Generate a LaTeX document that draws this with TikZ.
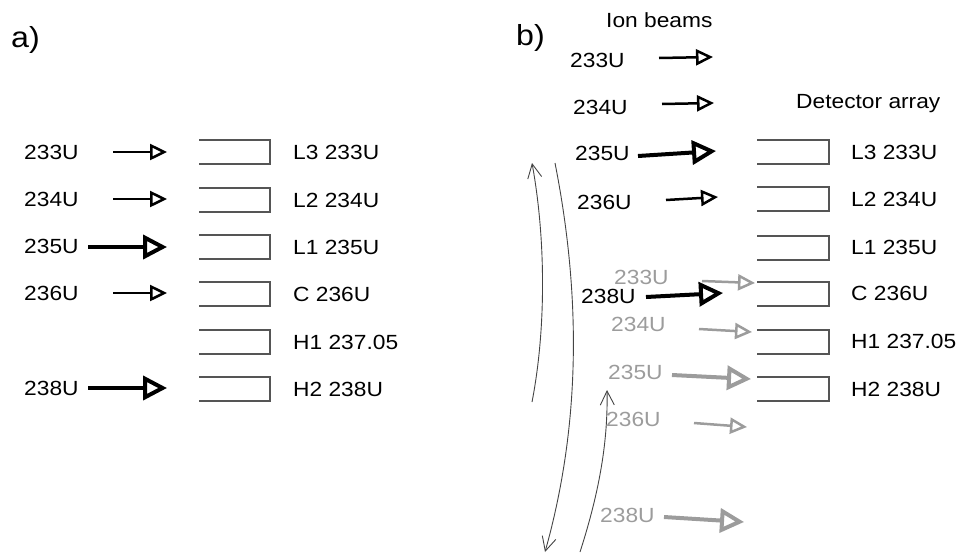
\documentclass[tikz,border=0pt]{standalone}
\usepackage{fontspec}
\setmainfont{Liberation Sans}[FakeStretch=1.11]
\usetikzlibrary{arrows.meta}
\definecolor{beamgray}{HTML}{9C9C9C}
\definecolor{boxgray}{HTML}{555555}
\definecolor{curvegray}{HTML}{444444}

\begin{document}
\begin{tikzpicture}[x=1pt,y=-1pt,
		lbl/.style={anchor=west,inner sep=0pt,font=\fontsize{20.5}{23}\selectfont},
		glbl/.style={lbl,text=beamgray},
		panel/.style={anchor=west,inner sep=0pt,font=\fontsize{29}{31}\selectfont},
		thinbeam/.style={line width=2.5pt,-{Triangle[open,length=17pt,width=16pt]}},
		fatbeam/.style={line width=4pt,-{Triangle[open,length=24pt,width=24pt]}},
		det/.style={draw=boxgray,line width=1.2pt},
		turn/.style={draw=curvegray,line width=0.9pt,-{Straight Barb[length=14pt,width=14pt]}}]
		\useasboundingbox (0,0) rectangle (960,552);
		%\draw [help lines,step=50] (0,0) grid (960,552);
		% a)
		\node [panel] (pa) at (11,40) {a)};
		\node [lbl] (a233) at (24,152) {233U};
		\node [lbl] (a234) at (24,199) {234U};
		\node [lbl] (a235) at (24,246) {235U};
		\node [lbl] (a236) at (24,293) {236U};
		\node [lbl] (a238) at (24,388) {238U};
		\draw [thinbeam] (113,152) -- (167,152);
		\draw [thinbeam] (113,199) -- (167,199);
		\draw [fatbeam] (88,247) -- (167,247);
		\draw [thinbeam] (113,293) -- (167,293);
		\draw [fatbeam] (88,388) -- (167,388);
		% Detector array a)
		\foreach \t in {140,188,235,282,330,377}
			\draw [det] (199,\t) -- (270,\t) -- (270,\t+24) -- (199,\t+24);
		\node [lbl] (aL3) at (293,152) {L3 233U};
		\node [lbl] (aL2) at (293,200) {L2 234U};
		\node [lbl] (aL1) at (293,247) {L1 235U};
		\node [lbl] (aC) at (293,294) {C 236U};
		\node [lbl] (aH1) at (293,342) {H1 237.05};
		\node [lbl] (aH2) at (293,389) {H2 238U};
		% b)
		\node [panel] (pb) at (516,38) {b)};
		\node [lbl] (ion) at (606,20) {Ion beams};
		\node [lbl] (arr) at (796,104) {Detector array};
		\foreach \t in {140,187,236,282,330,377}
			\draw [det] (757,\t) -- (829,\t) -- (829,\t+24) -- (757,\t+24);
		\node [lbl] (bL3) at (851,152) {L3 233U};
		\node [lbl] (bL2) at (851,199) {L2 234U};
		\node [lbl] (bL1) at (851,247) {L1 235U};
		\node [lbl] (bC) at (851,293) {C 236U};
		\node [lbl] (bH1) at (851,341) {H1 237.05};
		\node [lbl] (bH2) at (851,389) {H2 238U};
		% gray beams
		\node [glbl] (g233) at (614,277) {233U};
		\node [glbl] (g234) at (611,324) {234U};
		\node [glbl] (g235) at (608,372) {235U};
		\node [glbl] (g236) at (606,419) {236U};
		\node [glbl] (g238) at (600,515) {238U};
		\draw [thinbeam,beamgray] (702,281) -- (755,283);
		\draw [thinbeam,beamgray] (699,329) -- (752,332);
		\draw [fatbeam,beamgray] (672,375) -- (751,379);
		\draw [thinbeam,beamgray] (694,423) -- (747,427);
		\draw [fatbeam,beamgray] (664,517) -- (744,522);
		% black beams
		\node [lbl] (b233) at (570,60) {233U};
		\node [lbl] (b234) at (573,107) {234U};
		\node [lbl] (b235) at (575,153) {235U};
		\node [lbl] (b236) at (577,202) {236U};
		\node [lbl] (b238) at (581,296) {238U};
		\draw [thinbeam] (659,58) -- (713,57);
		\draw [thinbeam] (662,104) -- (714,103);
		\draw [fatbeam] (638,156) -- (716,151);
		\draw [thinbeam] (666,200) -- (718,197);
		\draw [fatbeam] (646,297) -- (723,293);
		% Rotation
		\draw [turn] (532,402) .. controls (546,330) and (546,240) .. (532,163);
		\draw [turn] (555,163) .. controls (580,290) and (582,420) .. (545,552);
		\draw [turn] (580,552) .. controls (600,490) and (608,440) .. (607,390);
	\end{tikzpicture}
\end{document}
